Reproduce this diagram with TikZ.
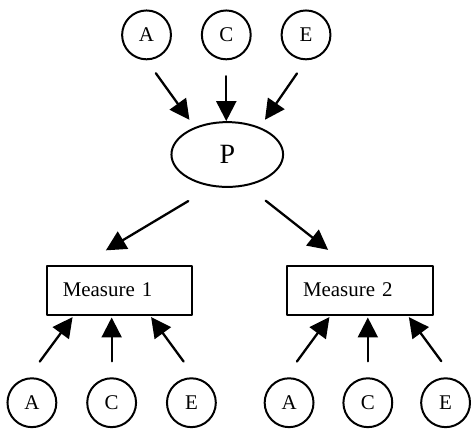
\documentclass[tikz,border=0pt]{standalone}
\usepackage{fontspec}
\setmainfont{Liberation Serif}
\usetikzlibrary{arrows.meta,shapes.geometric}

\begin{document}
\begin{tikzpicture}[x=1pt,y=-1pt,>={Triangle[length=20pt,width=20pt]},line cap=round,line join=round]
\path[fill=white] (0,0) rectangle (471,431);
\tikzset{latent/.style={draw,line width=2pt,circle,minimum size=49pt,inner sep=0pt,font=\fontsize{21}{21}\selectfont},factor/.style={draw,line width=2pt,ellipse,minimum width=112pt,minimum height=65pt,inner sep=0pt,font=\fontsize{28}{28}\selectfont},measure/.style={draw,line width=2pt,rectangle,text width=114pt,align=left,inner xsep=16pt,minimum height=49pt,font=\fontsize{21}{21}\selectfont},link/.style={draw,line width=2.3pt,->}}
\node[latent] (a1) at (147,35) {A};
\node[latent] (c1) at (227,35) {C};
\node[latent] (e1) at (307,35) {E};
\node[factor] (p) at (228,155) {P};
\draw[link,shorten <=16pt,shorten >=9pt] (a1.south) -- (p.140);
\draw[link,shorten <=16pt] (c1.south) -- (c1.south |- p.north);
\draw[link,shorten <=16pt,shorten >=9pt] (e1.south) -- (p.40);
\node[measure] (m1) at (120,291) {Measure 1};
\node[measure] (m2) at (361,291) {Measure 2};
\draw[link,shorten <=28pt,shorten >=28pt] (p.245) -- (m1.146);
\draw[link,shorten <=24pt,shorten >=24pt] (p.302) -- (m2.117);
\node[latent] (a2) at (32,404) {A};
\node[latent] (c2) at (112,404) {C};
\node[latent] (e2) at (192,404) {E};
\node[latent] (a3) at (290,404) {A};
\node[latent] (c3) at (369,404) {C};
\node[latent] (e3) at (447,404) {E};
\draw[link,shorten <=20pt,shorten >=2pt] (a2.99) -- (m1.209);
\draw[link,shorten <=16pt,shorten >=2pt] (c2.north) -- (c2.north |- m1.south);
\draw[link,shorten <=20pt,shorten >=2pt] (e2.81) -- (m1.320);
\draw[link,shorten <=20pt,shorten >=2pt] (a3.99) -- (m2.221);
\draw[link,shorten <=16pt,shorten >=2pt] (c3.north) -- (c3.north |- m2.south);
\draw[link,shorten <=22pt,shorten >=2pt] (e3.70) -- (m2.332);
\end{tikzpicture}
\end{document}
